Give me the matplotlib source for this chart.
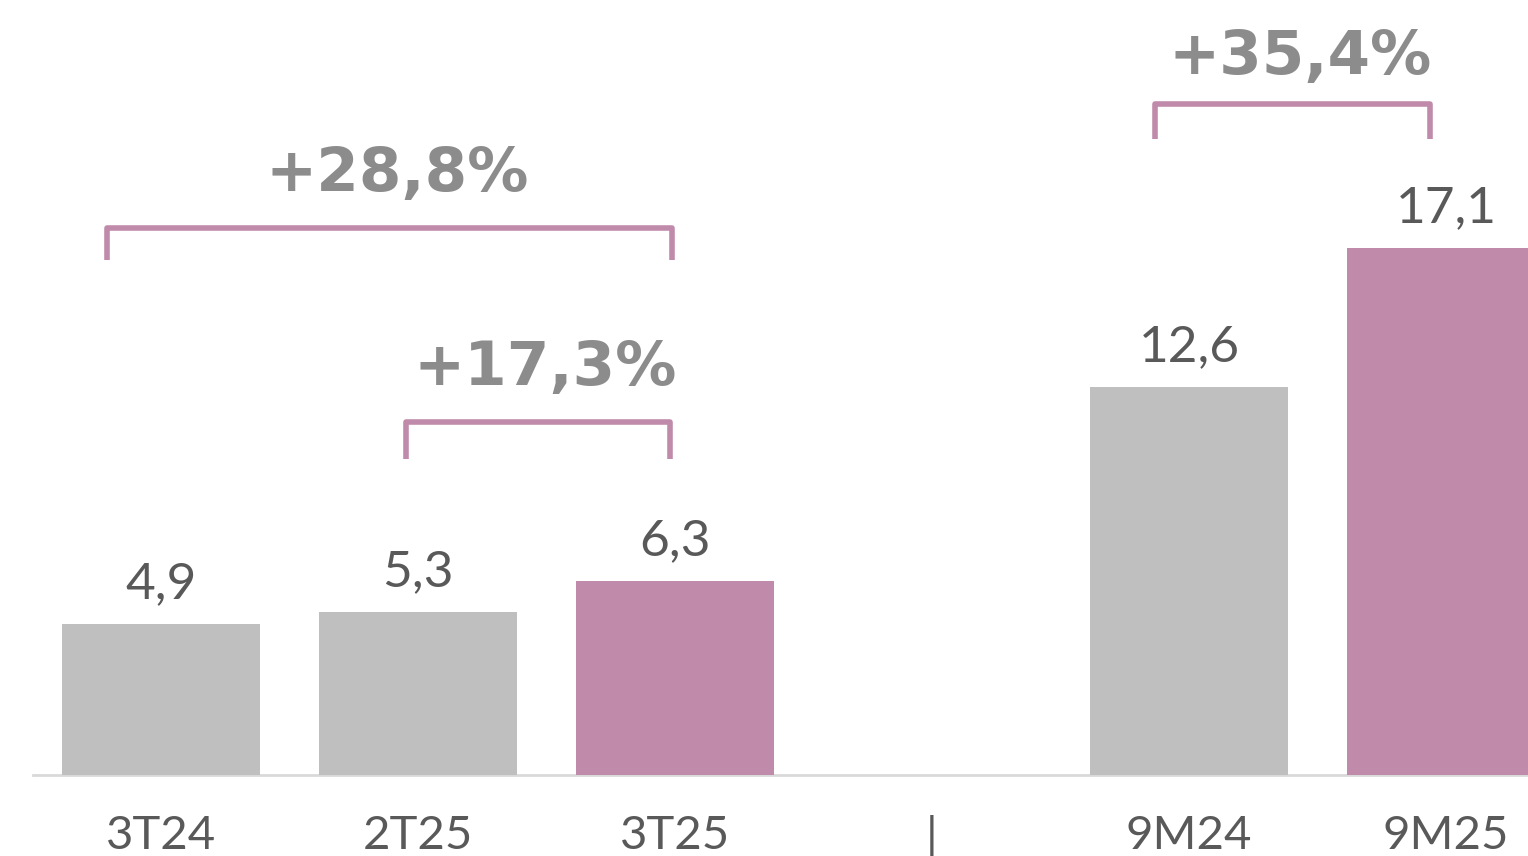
import matplotlib
matplotlib.use("Agg")
import matplotlib.pyplot as plt
import numpy as np

# data
categories = ["3T24", "2T25", "3T25", "|", "9M24", "9M25"]
values = [4.9, 5.3, 6.3, None, 12.6, 17.1]
value_labels = ["4,9", "5,3", "6,3", "", "12,6", "17,1"]
highlight = [False, False, True, False, False, True]
growth = [(0, 2, "+28,8%"), (1, 2, "+17,3%"), (4, 5, "+35,4%")]

grey = "#bfbfbf"
pink = "#c08aaa"
txt = "#595959"

plt.rcParams["font.family"] = ["Lato", "DejaVu Sans"]

fig = plt.figure(figsize=(15.28, 8.56), dpi=100)
ax = fig.add_axes([0, 0, 1, 1])

x = np.arange(len(categories))
for i, v in enumerate(values):
    if v is not None:
        ax.bar(x[i], v, width=0.77, color=pink if highlight[i] else grey, zorder=2)
        ax.annotate(value_labels[i], (x[i], v), xytext=(0, 12), textcoords="offset points",
                    ha="center", va="bottom", fontsize=37, color=txt)
    # category labels under the baseline
    ax.annotate(categories[i], (x[i], 0), xytext=(0, -29), textcoords="offset points",
                ha="center", va="top", fontsize=34, color=txt)

ax.plot([-0.5, 6], [0, 0], color="#d9d9d9", lw=2, zorder=1)

# brackets (left/right offsets, top and leg bottom in data units, label gap)
bracket_geo = [(-0.21, -0.01, 17.76, 16.72, 1.75),
               (-0.047, -0.02, 11.46, 10.26, 1.75),
               (-0.132, -0.062, 21.79, 20.65, 1.5)]
for (a, b, lab), (dl, dr, top, bot, gap) in zip(growth, bracket_geo):
    xl, xr = x[a] + dl, x[b] + dr
    ax.plot([xl, xl, xr, xr], [bot, top, top, bot], color=pink, lw=4,
            solid_joinstyle="round", solid_capstyle="butt", zorder=3)
    ax.text((xl + xr) / 2 + 0.03, top + gap, lab, ha="center", va="center",
            fontsize=44, fontweight="bold", color="#8c8c8c", family="DejaVu Sans")

ax.set_xticks([])
ax.set_yticks([])
for s in ax.spines.values():
    s.set_visible(False)

ax.set_xlim(-0.6265, 5.319)
ax.set_ylim(-2.63, 25.16)

fig.savefig("out.png", dpi=100)
